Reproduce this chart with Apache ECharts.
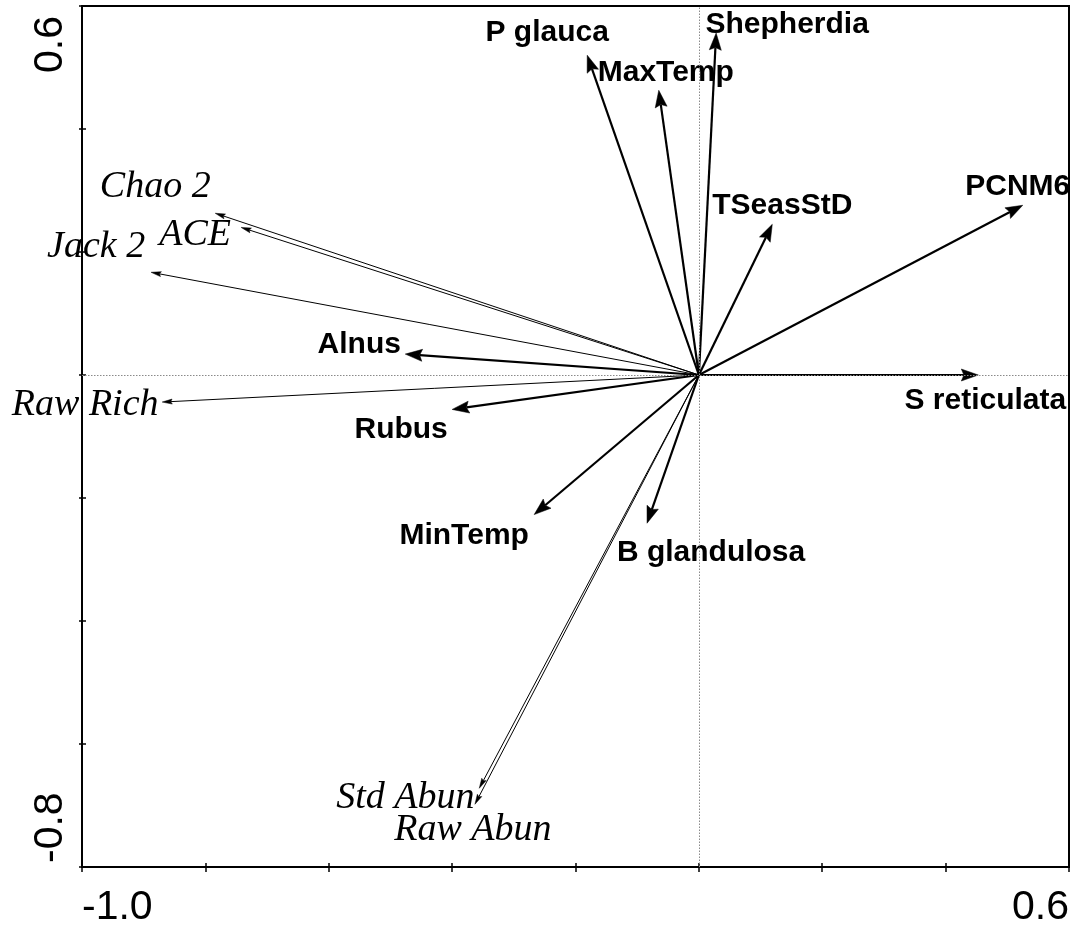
<!DOCTYPE html>
<html>
<head>
<meta charset="utf-8">
<title>Ordination biplot</title>
<script src="https://cdn.jsdelivr.net/npm/echarts@6.0.0/dist/echarts.min.js"></script>
<style>
  html, body { margin: 0; padding: 0; background: #fff; }
  #chart { width: 1074px; height: 930px; }
</style>
</head>
<body>
<div id="chart"></div>
<script>
// Axis ranges and tick labels (only the end ticks carry text)
const X_MIN = -1.0, X_MAX = 0.6, Y_MIN = -0.8, Y_MAX = 0.6, TICK_STEP = 0.2;
const xTickLabels = ['-1.0', '', '', '', '', '', '', '', '0.6'];
const yTickLabels = ['-0.8', '', '', '', '', '', '', '0.6'];

// Species and environmental vectors (axis 1, axis 2 scores)
const vectorNames = ['P glauca', 'MaxTemp', 'Shepherdia', 'TSeasStD', 'PCNM6',
                     'S reticulata', 'Alnus', 'Rubus', 'MinTemp', 'B glandulosa'];
const vectorAxis1 = [-0.181, -0.065, 0.028, 0.119, 0.525, 0.453, -0.476, -0.400, -0.267, -0.084];
const vectorAxis2 = [0.520, 0.463, 0.556, 0.245, 0.276, 0.000, 0.034, -0.056, -0.227, -0.241];

// Diversity indices projected as passive vectors
const indexNames = ['Chao 2', 'ACE', 'Jack 2', 'Raw Rich', 'Std Abun', 'Raw Abun'];
const indexAxis1 = [-0.784, -0.742, -0.888, -0.870, -0.356, -0.363];
const indexAxis2 = [0.263, 0.240, 0.167, -0.044, -0.672, -0.698];

// Label placement relative to each arrow tip, in pixels (centre of the text)
const labelOffsets = {
  'P glauca': [-40, -22], 'MaxTemp': [7, -18], 'Shepherdia': [71, -8],
  'TSeasStD': [10, -19], 'PCNM6': [-5, -19], 'S reticulata': [7, 26],
  'Alnus': [-46, -9], 'Rubus': [-51, 20], 'MinTemp': [-70, 21],
  'B glandulosa': [64, 30],
  'Chao 2': [-60, -26], 'ACE': [-46, 8], 'Jack 2': [-55, -25],
  'Raw Rich': [-77, 3], 'Std Abun': [-74, 10], 'Raw Abun': [-2, 26]
};

const SANS = "'Liberation Sans', Arial, Helvetica, sans-serif";
const SERIF = "'Liberation Serif', 'Times New Roman', Times, serif";

function arrowRenderer(names, look) {
  return function (params, api) {
    const x = api.value(0), y = api.value(1);
    const o = api.coord([0, 0]);
    const t = api.coord([x, y]);
    const dx = t[0] - o[0], dy = t[1] - o[1];
    const len = Math.hypot(dx, dy) || 1;
    const ux = dx / len, uy = dy / len;
    const px = -uy, py = ux;
    const hl = look.headLength, hw = look.headWidth / 2;
    const bx = t[0] - ux * hl, by = t[1] - uy * hl;
    const nx = t[0] - ux * hl * 0.85, ny = t[1] - uy * hl * 0.85;
    const name = names[params.dataIndex];
    const off = labelOffsets[name] || [0, 0];
    return {
      type: 'group',
      children: [
        {
          type: 'line',
          shape: { x1: o[0], y1: o[1], x2: nx, y2: ny },
          style: { stroke: '#000', lineWidth: look.lineWidth }
        },
        {
          type: 'polygon',
          shape: { points: [[t[0], t[1]], [bx + px * hw, by + py * hw], [nx, ny], [bx - px * hw, by - py * hw]] },
          style: { fill: '#000', stroke: '#000', lineWidth: 0.5 }
        },
        {
          type: 'text',
          x: t[0] + off[0],
          y: t[1] + off[1],
          style: {
            text: name,
            align: 'center',
            verticalAlign: 'middle',
            fill: '#000',
            font: look.font
          }
        }
      ]
    };
  };
}

const vectorData = vectorAxis1.map((v, i) => [v, vectorAxis2[i]]);
const indexData = indexAxis1.map((v, i) => [v, indexAxis2[i]]);

const chart = echarts.init(document.getElementById('chart'), null, { renderer: 'canvas' });

const axisLabelFont = { fontFamily: SANS, fontSize: 41, color: '#000' };

chart.setOption({
  animation: false,
  backgroundColor: '#fff',
  grid: {
    left: 82, right: 5, top: 6, bottom: 63,
    show: true, borderColor: '#000', borderWidth: 2,
    containLabel: false, outerBoundsMode: 'none'
  },
  xAxis: [
    {
      type: 'value', min: X_MIN, max: X_MAX, interval: TICK_STEP,
      position: 'bottom',
      splitLine: { show: false },
      axisLine: { show: true, onZero: false, lineStyle: { color: '#000', width: 2 } },
      axisTick: { show: true, inside: false, length: 5, lineStyle: { color: '#000', width: 1.5 } },
      axisLabel: Object.assign({
        show: true, margin: 20, showMinLabel: true, showMaxLabel: true,
        alignMinLabel: 'left', alignMaxLabel: 'right',
        formatter: (v, i) => xTickLabels[i] || ''
      }, axisLabelFont)
    },
    {
      type: 'value', min: X_MIN, max: X_MAX, interval: TICK_STEP,
      position: 'bottom',
      splitLine: { show: false },
      axisLine: { show: false, onZero: false },
      axisTick: { show: true, inside: true, length: 4, lineStyle: { color: '#000', width: 1.5 } },
      axisLabel: { show: false }
    }
  ],
  yAxis: [
    {
      type: 'value', min: Y_MIN, max: Y_MAX, interval: TICK_STEP,
      position: 'left',
      splitLine: { show: false },
      axisLine: { show: true, onZero: false, lineStyle: { color: '#000', width: 2 } },
      axisTick: { show: true, inside: false, length: 3, lineStyle: { color: '#000', width: 1.5 } },
      axisLabel: Object.assign({
        show: true, rotate: 90, margin: 11, showMinLabel: true, showMaxLabel: true,
        alignMinLabel: 'left', alignMaxLabel: 'right',
        // end labels sit slightly inside the frame corners
        formatter: (v, i) => {
          const s = yTickLabels[i] || '';
          if (!s) return '';
          return i === 0 ? '{lo|' + s + '}' : '{hi|' + s + '}';
        },
        rich: {
          lo: { fontFamily: SANS, fontSize: 41, color: '#000', padding: [0, 0, 0, 4] },
          hi: { fontFamily: SANS, fontSize: 41, color: '#000', padding: [0, 10, 0, 0] }
        }
      }, axisLabelFont)
    },
    {
      type: 'value', min: Y_MIN, max: Y_MAX, interval: TICK_STEP,
      position: 'left',
      splitLine: { show: false },
      axisLine: { show: false, onZero: false },
      axisTick: { show: true, inside: true, length: 4, lineStyle: { color: '#000', width: 1.5 } },
      axisLabel: { show: false }
    }
  ],
  series: [
    {
      // dotted reference lines through the origin
      type: 'line',
      data: [],
      silent: true,
      z: 1,
      markLine: {
        silent: true,
        symbol: 'none',
        animation: false,
        label: { show: false },
        lineStyle: { type: [1.5, 1.5], color: '#8a8a8a', width: 1 },
        emphasis: { disabled: true },
        data: [{ xAxis: 0 }, { yAxis: 0 }]
      }
    },
    {
      name: 'Diversity indices',
      type: 'custom',
      z: 3,
      silent: true,
      data: indexData,
      renderItem: arrowRenderer(indexNames, {
        lineWidth: 1, headLength: 10, headWidth: 5,
        font: 'italic 38px ' + SERIF
      })
    },
    {
      name: 'Species and environment',
      type: 'custom',
      z: 4,
      silent: true,
      data: vectorData,
      renderItem: arrowRenderer(vectorNames, {
        lineWidth: 2.2, headLength: 17, headWidth: 12,
        font: 'bold 30px ' + SANS
      })
    }
  ]
});
</script>
</body>
</html>
